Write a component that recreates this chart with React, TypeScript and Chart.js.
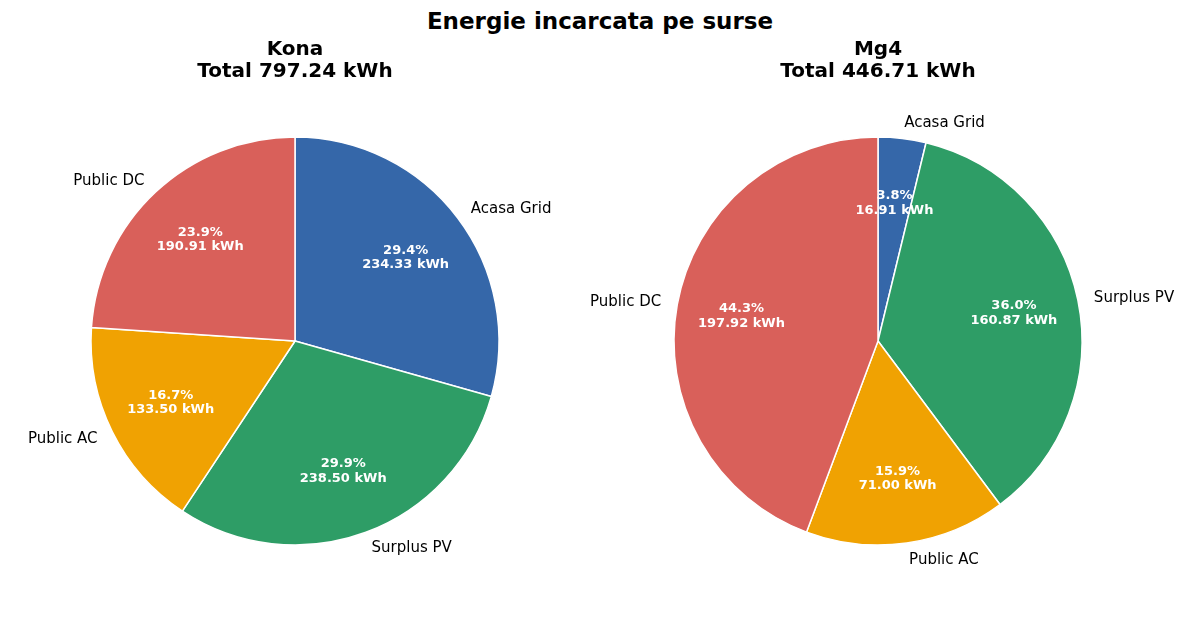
import React, { useEffect, useRef } from "react";
import { Chart, registerables } from "chart.js";

Chart.register(...registerables);

const FONT = "'DejaVu Sans', sans-serif";

const suptitle = "Energie incarcata pe surse";
const sources = ["Acasa Grid", "Surplus PV", "Public AC", "Public DC"];
const colors = ["#3567a9", "#2e9d66", "#f0a202", "#d9605a"];
const vehicles = ["Kona", "Mg4"];
const konaKwh = [234.33, 238.5, 133.5, 190.91];
const mg4Kwh = [16.91, 160.87, 71.0, 197.92];
const totalsKwh = [797.24, 446.71];

const labelPlugin = {
  id: "pieLabels",
  afterDatasetsDraw(chart: any) {
    const ctx = chart.ctx;
    const meta = chart.getDatasetMeta(0);
    const vals: number[] = chart.data.datasets[0].data;
    const total = vals.reduce((a, b) => a + b, 0);
    meta.data.forEach((arc: any, i: number) => {
      const { x, y, startAngle, endAngle, outerRadius } = arc.getProps(
        ["x", "y", "startAngle", "endAngle", "outerRadius"],
        true
      );
      const mid = (startAngle + endAngle) / 2;
      const c = Math.cos(mid);
      const s = Math.sin(mid);
      ctx.save();
      ctx.font = `15px ${FONT}`;
      ctx.fillStyle = "#000";
      ctx.textBaseline = "middle";
      const lr = outerRadius * 1.08;
      ctx.textAlign = c >= 0 ? "left" : "right";
      ctx.fillText(chart.data.labels[i], x + c * lr, y + s * lr + 0.8);
      ctx.font = `bold 13px ${FONT}`;
      ctx.fillStyle = "#fff";
      ctx.textAlign = "center";
      const pr = outerRadius * 0.68;
      const px = x + c * pr;
      const py = y + s * pr;
      ctx.fillText(`${((vals[i] / total) * 100).toFixed(1)}%`, px, py - 7.2);
      ctx.fillText(`${vals[i].toFixed(2)} kWh`, px, py + 7.4);
      ctx.restore();
    });
  },
};

function PieChart(props: { idx: number; values: number[]; left: number; width: number; padRight: number }) {
  const ref = useRef<HTMLCanvasElement | null>(null);
  useEffect(() => {
    if (!ref.current) return;
    const chart = new Chart(ref.current, {
      type: "pie",
      data: {
        labels: sources,
        datasets: [
          {
            data: props.values,
            backgroundColor: colors,
            borderColor: "#ffffff",
            borderWidth: 1.5,
            radius: 204,
          } as any,
        ],
      },
      options: {
        animation: false,
        responsive: true,
        maintainAspectRatio: false,
        events: [],
        layout: { padding: { top: 0, bottom: 25, left: 0, right: props.padRight } },
        plugins: {
          legend: { display: false },
          tooltip: { enabled: false },
          title: {
            display: true,
            text: [vehicles[props.idx], `Total ${totalsKwh[props.idx].toFixed(2)} kWh`],
            color: "#000",
            font: { family: FONT, size: 20, weight: "bold", lineHeight: 1.12 },
            padding: { top: 38.2, bottom: 0 },
          },
        },
      } as any,
      plugins: [labelPlugin],
    });
    return () => chart.destroy();
  }, []);
  return (
    <div style={{ position: "absolute", left: props.left, top: 0, width: props.width, height: 624 }}>
      <canvas ref={ref} />
    </div>
  );
}

export default function App() {
  return (
    <div style={{ position: "fixed", left: 0, top: 0, width: 1200, height: 624, background: "#fff", overflow: "hidden" }}>
      <div
        style={{
          position: "absolute",
          left: 0,
          top: 9.5,
          width: 1200,
          textAlign: "center",
          fontFamily: FONT,
          fontWeight: "bold",
          fontSize: 23,
          lineHeight: "23px",
          color: "#000",
        }}
      >
        {suptitle}
      </div>
      <PieChart idx={0} values={konaKwh} left={0} width={600} padRight={10} />
      <PieChart idx={1} values={mg4Kwh} left={560} width={640} padRight={4} />
    </div>
  );
}
